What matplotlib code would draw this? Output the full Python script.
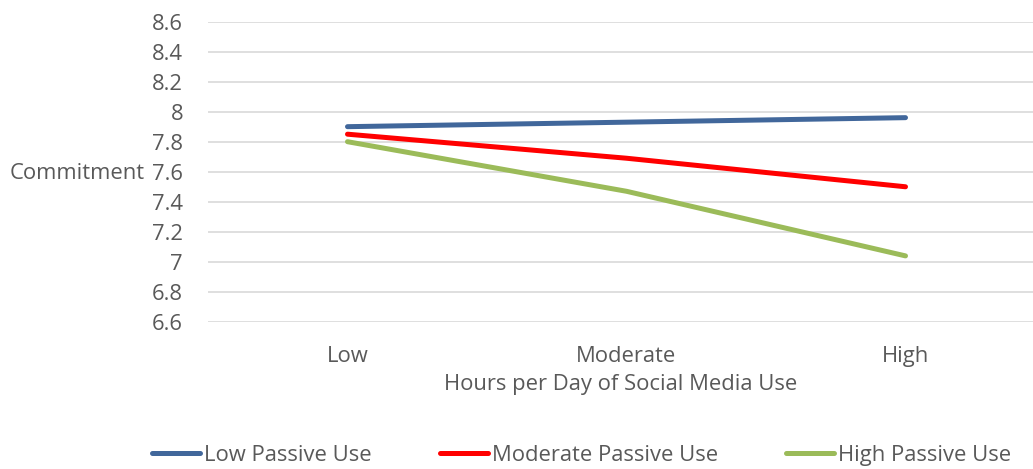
import matplotlib
matplotlib.use("Agg")
import matplotlib.pyplot as plt

categories = ["Low", "Moderate", "High"]
series_names = ["Low Passive Use", "Moderate Passive Use", "High Passive Use"]
low_passive = [7.90, 7.93, 7.96]
moderate_passive = [7.85, 7.69, 7.50]
high_passive = [7.80, 7.47, 7.04]
yticks = [6.6, 6.8, 7.0, 7.2, 7.4, 7.6, 7.8, 8.0, 8.2, 8.4, 8.6]
ytick_labels = ["6.6", "6.8", "7", "7.2", "7.4", "7.6", "7.8", "8", "8.2", "8.4", "8.6"]
colors = ["#41679b", "#ff0000", "#9bbb59"]

plt.rcParams['font.family'] = ['Open Sans', 'DejaVu Sans']
FS = 15.8
W, H = 1033, 469
fig = plt.figure(figsize=(W/100, H/100), dpi=100)
ax = fig.add_axes([208/W, (H-322)/H, 837/W, (322-21.5)/H])

x = list(range(len(categories)))
for vals, name, c in zip([low_passive, moderate_passive, high_passive], series_names, colors):
    ax.plot(x, vals, color=c, lw=3.6, solid_capstyle='round', label=name)

ax.set_xlim(-0.5, 2.5)
ax.set_ylim(6.6, 8.6)
ax.set_yticks(yticks)
ax.set_yticklabels(ytick_labels)
ax.set_xticks(x)
ax.set_xticklabels(categories)
ax.grid(axis='y', color='#d9d9d9', lw=1.2)
ax.set_axisbelow(True)
for s in ax.spines.values():
    s.set_visible(False)
ax.tick_params(axis='both', length=0, labelsize=FS, colors='#595959')
ax.tick_params(axis='y', pad=18)
ax.tick_params(axis='x', pad=17)

fig.text(10/W, 1 - 173/H, "Commitment", fontsize=FS, color='#595959', va='center', ha='left')
fig.text(621/W, 1 - 384/H, "Hours per Day of Social Media Use", fontsize=FS, color='#595959', va='center', ha='center')

leg = fig.legend(loc='center', bbox_to_anchor=(581.5/W, 1 - 455/H), ncol=3, frameon=False,
                 fontsize=FS, handlelength=2.2, handletextpad=0.18, columnspacing=3.1,
                 labelcolor='#595959')

fig.savefig("out.png", dpi=100)
